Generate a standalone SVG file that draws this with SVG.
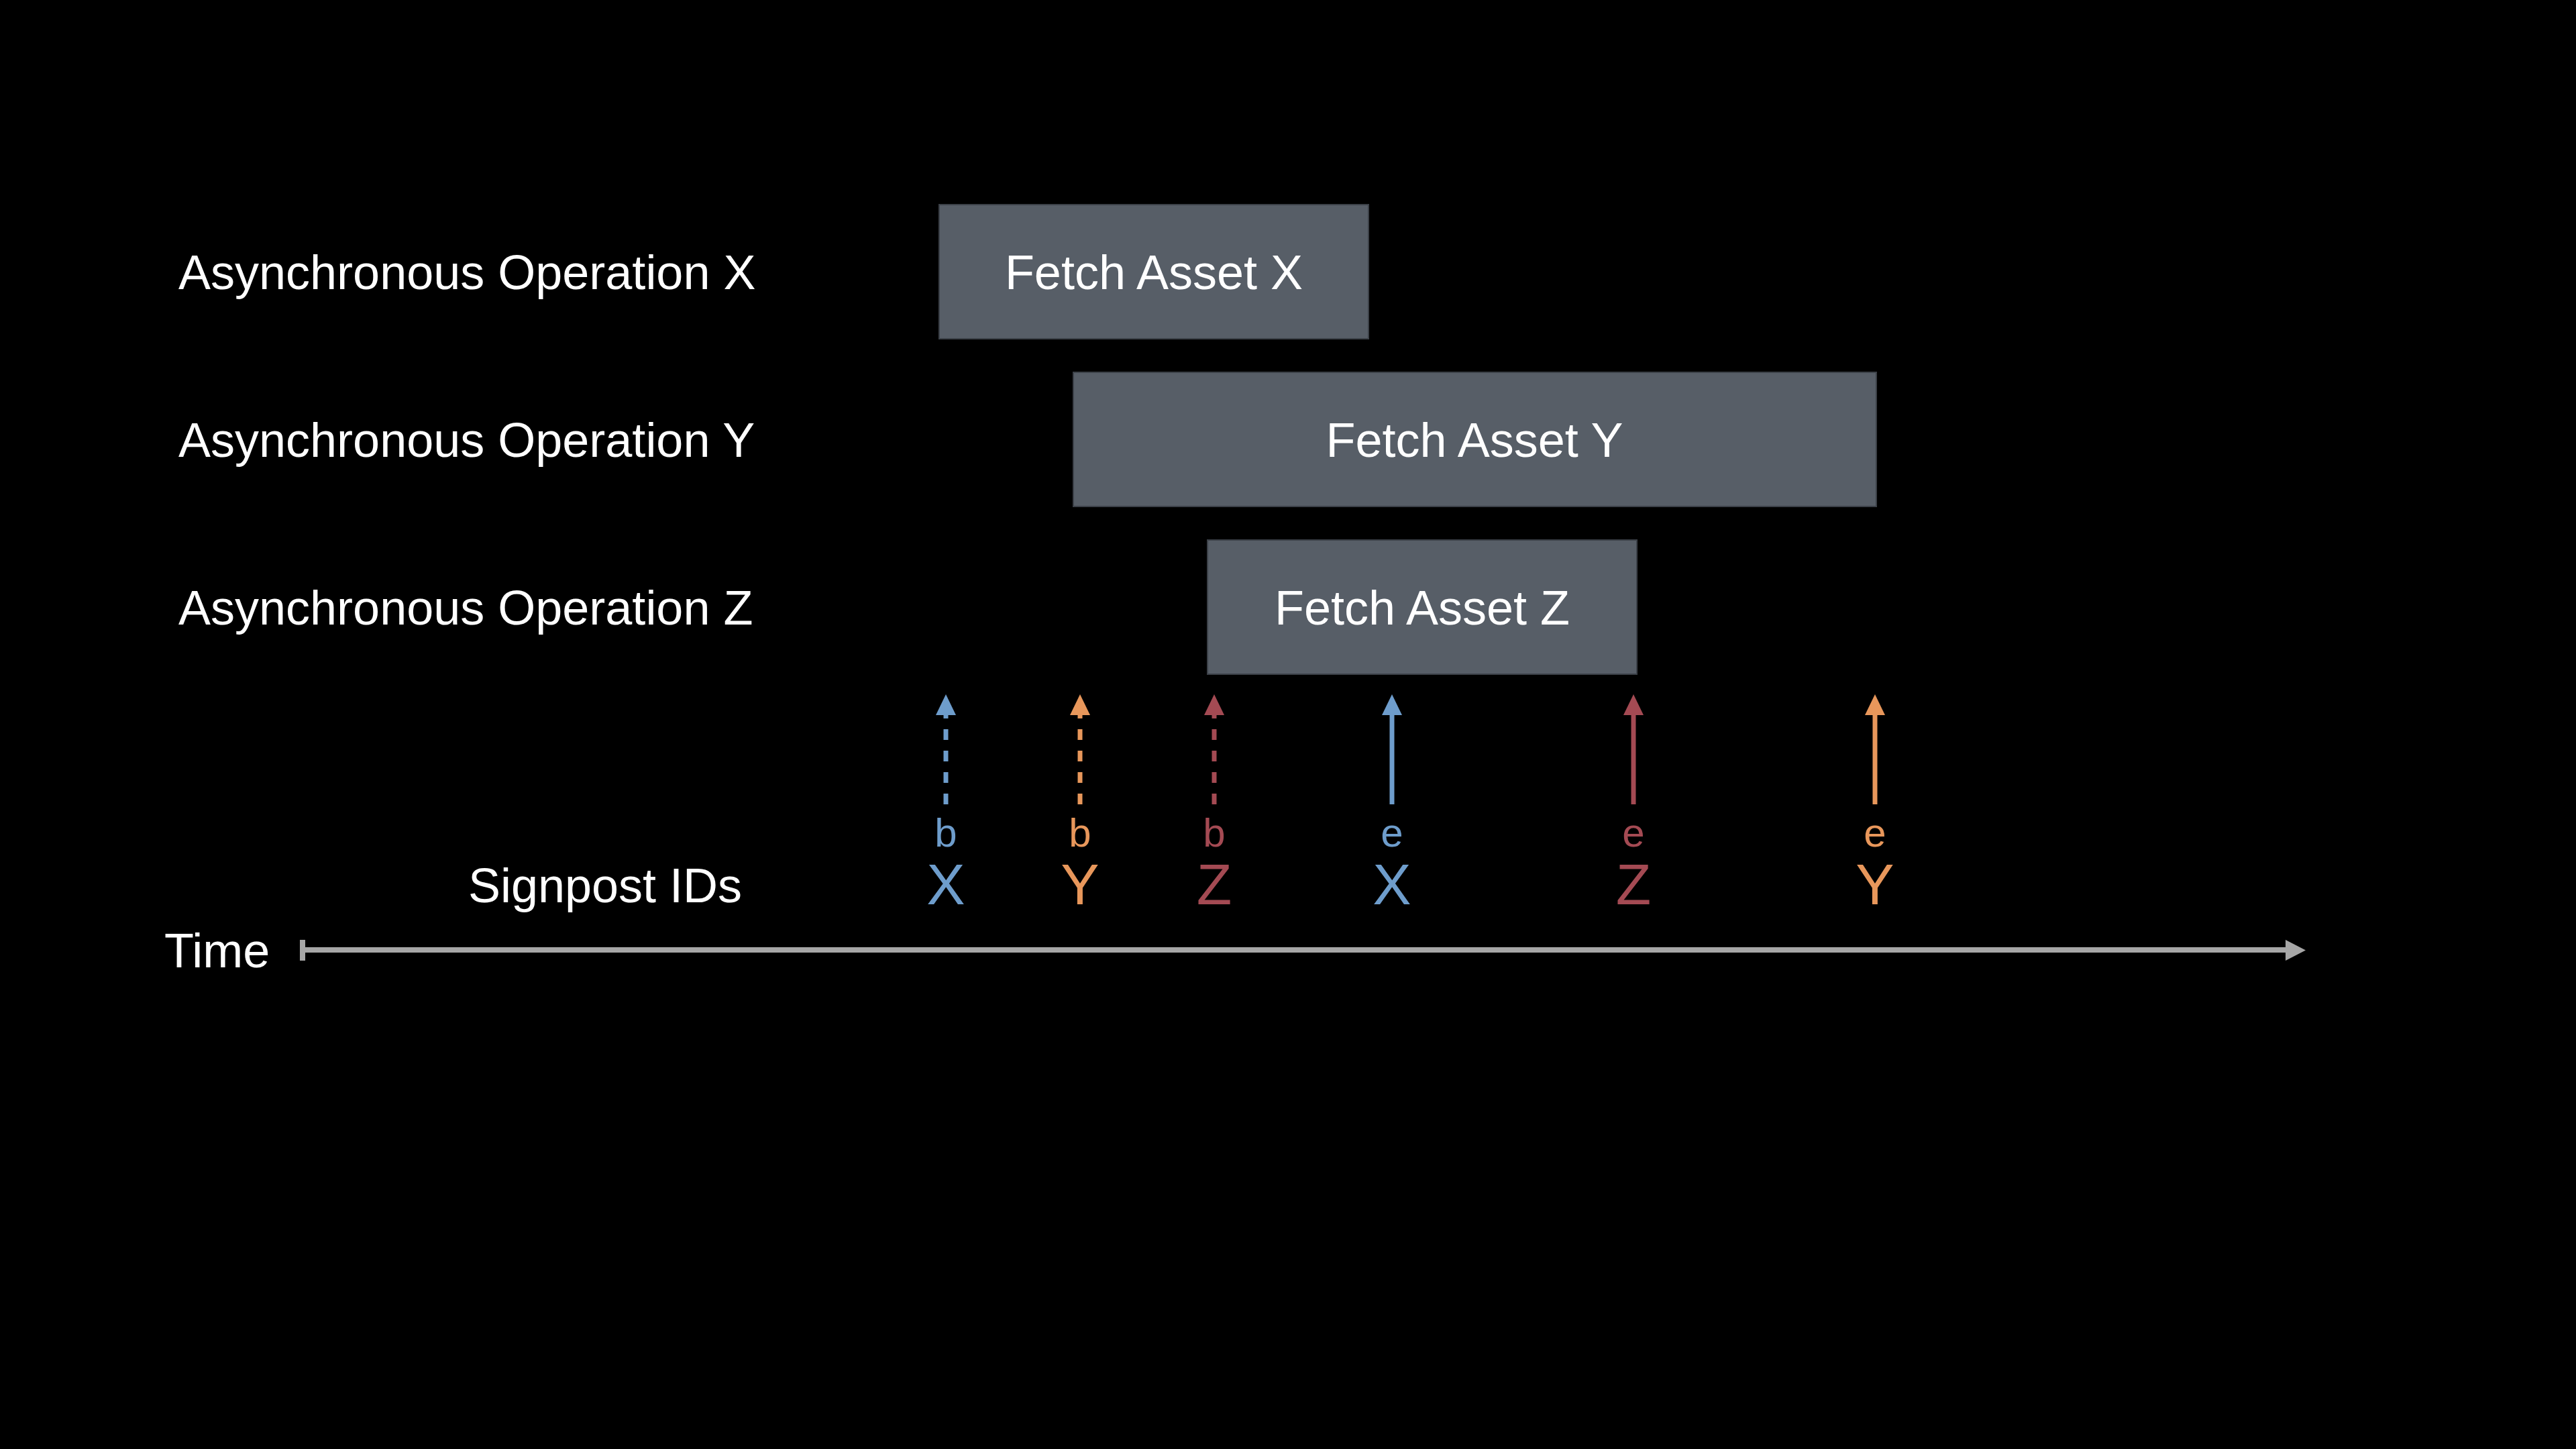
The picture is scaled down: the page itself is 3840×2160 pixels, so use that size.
<svg xmlns="http://www.w3.org/2000/svg" width="3840" height="2160" viewBox="0 0 3840 2160">
<defs>
<style>
.lbl{font-family:"Liberation Sans",Arial,sans-serif;font-size:72px;fill:#ffffff}
.box{fill:#575e67;stroke:#3c4148;stroke-width:2}
.mid{text-anchor:middle}
.sm{font-family:"Liberation Sans",Arial,sans-serif;font-size:60px;text-anchor:middle}
.big{font-family:"Liberation Sans",Arial,sans-serif;font-size:86px;text-anchor:middle}
.blue{fill:#6e9dcc}
.orange{fill:#e8975b}
.red{fill:#a44a53}
.sb{stroke:#6e9dcc}
.so{stroke:#e8975b}
.sr{stroke:#a44a53}
.stem{stroke-width:7;fill:none}
.dash{stroke-dasharray:16 16}
</style>
<marker id="hb" markerUnits="userSpaceOnUse" markerWidth="30" markerHeight="31" refX="15" refY="31" orient="0" viewBox="0 0 30 31"><path d="M15 0 L30 31 L0 31 Z" fill="#6e9dcc"/></marker>
<marker id="ho" markerUnits="userSpaceOnUse" markerWidth="30" markerHeight="31" refX="15" refY="31" orient="0" viewBox="0 0 30 31"><path d="M15 0 L30 31 L0 31 Z" fill="#e8975b"/></marker>
<marker id="hr" markerUnits="userSpaceOnUse" markerWidth="30" markerHeight="31" refX="15" refY="31" orient="0" viewBox="0 0 30 31"><path d="M15 0 L30 31 L0 31 Z" fill="#a44a53"/></marker>
</defs>
<rect x="0" y="0" width="3840" height="2160" fill="#000000"/>

<g id="labels">
<text class="lbl" x="266" y="431">Asynchronous Operation X</text>
<text class="lbl" x="266" y="681">Asynchronous Operation Y</text>
<text class="lbl" x="266" y="931">Asynchronous Operation Z</text>
<text class="lbl mid" x="902" y="1345">Signpost IDs</text>
<text class="lbl" x="245" y="1442">Time</text>
</g>

<g id="fetch-x">
<rect class="box" x="1400" y="305" width="640" height="200"/>
<text class="lbl mid" x="1720" y="431">Fetch Asset X</text>
</g>
<g id="fetch-y">
<rect class="box" x="1600" y="555" width="1197" height="200"/>
<text class="lbl mid" x="2198" y="681">Fetch Asset Y</text>
</g>
<g id="fetch-z">
<rect class="box" x="1800" y="805" width="640" height="200"/>
<text class="lbl mid" x="2120" y="931">Fetch Asset Z</text>
</g>

<g id="signposts">
<text class="sm blue" x="1410" y="1262">b</text><text class="big blue" x="1410" y="1348">X</text>
<text class="sm orange" x="1610" y="1262">b</text><text class="big orange" x="1610" y="1348">Y</text>
<text class="sm red" x="1810" y="1262">b</text><text class="big red" x="1810" y="1348">Z</text>
<text class="sm blue" x="2075" y="1262">e</text><text class="big blue" x="2075" y="1348">X</text>
<text class="sm red" x="2435" y="1262">e</text><text class="big red" x="2435" y="1348">Z</text>
<text class="sm orange" x="2795" y="1262">e</text><text class="big orange" x="2795" y="1348">Y</text>
</g>

<g id="connectors">
<path class="stem sb dash" d="M1410 1199 V1066" marker-end="url(#hb)"/>
<path class="stem so dash" d="M1610 1199 V1066" marker-end="url(#ho)"/>
<path class="stem sr dash" d="M1810 1199 V1066" marker-end="url(#hr)"/>
<path class="stem sb" d="M2075 1199 V1066" marker-end="url(#hb)"/>
<path class="stem sr" d="M2435 1199 V1066" marker-end="url(#hr)"/>
<path class="stem so" d="M2795 1199 V1066" marker-end="url(#ho)"/>
<g id="time-axis">
<rect x="447" y="1401" width="8" height="31" fill="#a6a6a6"/>
<rect x="451" y="1412" width="2957" height="8" fill="#a6a6a6"/>
<path d="M3407 1401 L3437 1416.5 L3407 1432 Z" fill="#a6a6a6"/>
</g>
</g>
</svg>
